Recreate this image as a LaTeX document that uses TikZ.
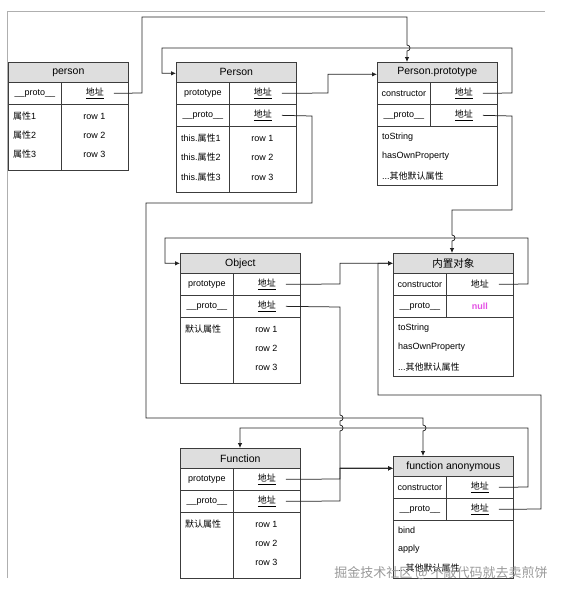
\documentclass[tikz,border=0pt]{standalone}
\usepackage{fontspec}
\setmainfont{Liberation Sans}
\newfontfamily\cjk{Noto Sans CJK SC}
\usetikzlibrary{positioning,calc}
\usetikzlibrary{arrows.meta}
\definecolor{BoxLine}{RGB}{60,60,60}
\definecolor{HeadGray}{RGB}{222,222,222}
\definecolor{LinkGray}{RGB}{35,35,35}
\definecolor{FrameGray}{RGB}{175,175,175}
\definecolor{NullPink}{RGB}{228,80,228}
\tikzset{
  head/.style={draw=BoxLine,fill=HeadGray,line width=0.7pt,anchor=north west,minimum width=120pt,
    minimum height=20pt,inner sep=0pt,font=\fontsize{10.5}{12}\selectfont},
  keycell/.style={draw=BoxLine,line width=0.7pt,anchor=north west,minimum width=53pt,minimum height=22pt,
    inner sep=0pt,font=\fontsize{9}{11}\selectfont},
  valcell/.style={draw=BoxLine,line width=0.7pt,anchor=north west,minimum width=67pt,minimum height=22pt,
    inner sep=0pt,font=\fontsize{9}{11}\selectfont},
  bodycell/.style={draw=BoxLine,line width=0.7pt,anchor=north west,inner sep=0pt},
}
\tikzset{entry/.style={anchor=west,inner sep=0pt,font=\fontsize{9}{11}\selectfont},
  rowv/.style={inner sep=0pt,font=\fontsize{9}{11}\selectfont},
  arr/.style={draw=LinkGray,line width=0.75pt,-{Latex[length=5pt,width=4.5pt]}},
  pageframe/.style={draw=FrameGray,line width=0.8pt},
  watermark/.style={text=black!40,font=\fontsize{13}{15}\selectfont}}
\newcommand{\addr}{\underline{\cjk 地址}}

\begin{document}
\begin{tikzpicture}[x=1pt,y=-1pt]
\useasboundingbox (0,0) rectangle (565,595);
\draw[pageframe] (7,578) -- (7,11) -- (545,11);

% person
\node[head] (pers) at (8,62) {person};
\node[keycell] (pers-k1) at (8,82) {\_\_proto\_\_};
\node[valcell] (pers-v1) at (61,82) {\addr};
\node[bodycell,minimum width=53pt,minimum height=66pt] (pers-b1) at (8,104) {};
\node[bodycell,minimum width=67pt,minimum height=66pt] (pers-b2) at (61,104) {};
\foreach \i/\y in {1/116,2/135,3/154}{
  \node[entry] (pers-t\i) at (13,\y) {{\cjk 属性}\i};
  \node[rowv] (pers-r\i) at (94.5,\y) {row \i};
}

% Person
\node[head] (ctor) at (176,62) {Person};
\node[keycell] (ctor-k1) at (176,82) {prototype};
\node[valcell] (ctor-v1) at (229,82) {\addr};
\node[keycell] (ctor-k2) at (176,104) {\_\_proto\_\_};
\node[valcell] (ctor-v2) at (229,104) {\addr};
\node[bodycell,minimum width=53pt,minimum height=66pt] (ctor-b1) at (176,126) {};
\node[bodycell,minimum width=67pt,minimum height=66pt] (ctor-b2) at (229,126) {};
\foreach \i/\y in {1/138,2/157,3/177}{
  \node[entry] (ctor-t\i) at (181,\y) {this.{\cjk 属性}\i};
  \node[rowv] (ctor-r\i) at (262.5,\y) {row \i};
}

% Person.prototype
\node[head] (ptype) at (377,62) {Person.prototype};
\node[keycell] (ptype-k1) at (377,82) {constructor};
\node[valcell] (ptype-v1) at (430,82) {\addr};
\node[keycell] (ptype-k2) at (377,104) {\_\_proto\_\_};
\node[valcell] (ptype-v2) at (430,104) {\addr};
\node[bodycell,minimum width=120pt,minimum height=59pt] (ptype-b) at (377,126) {};
\node[entry] (ptype-t1) at (382,137) {toString};
\node[entry] (ptype-t2) at (382,156) {hasOwnProperty};
\node[entry] (ptype-t3) at (382,176) {...{\cjk 其他默认属性}};

% Object
\node[head] (objf) at (180,253) {Object};
\node[keycell] (objf-k1) at (180,273) {prototype};
\node[valcell] (objf-v1) at (233,273) {\addr};
\node[keycell] (objf-k2) at (180,295) {\_\_proto\_\_};
\node[valcell] (objf-v2) at (233,295) {\addr};
\node[bodycell,minimum width=53pt,minimum height=66pt] (objf-b1) at (180,317) {};
\node[bodycell,minimum width=67pt,minimum height=66pt] (objf-b2) at (233,317) {};
\node[entry] (objf-t1) at (185,329) {\cjk 默认属性};
\foreach \i/\y in {1/329,2/348,3/367}
  \node[rowv] (objf-r\i) at (266.5,\y) {row \i};

% 内置对象
\node[head] (objp) at (393,253) {\cjk 内置对象};
\node[keycell] (objp-k1) at (393,273) {constructor};
\node[valcell] (objp-v1) at (446,273) {\cjk 地址};
\node[keycell] (objp-k2) at (393,295) {\_\_proto\_\_};
\node[valcell,text=NullPink,font=\fontsize{9}{11}\selectfont\bfseries] (objp-v2) at (446,295) {null};
\node[bodycell,minimum width=120pt,minimum height=59pt] (objp-b) at (393,317) {};
\node[entry] (objp-t1) at (398,328) {toString};
\node[entry] (objp-t2) at (398,347) {hasOwnProperty};
\node[entry] (objp-t3) at (398,367) {...{\cjk 其他默认属性}};

% Function
\node[head] (func) at (180,448) {Function};
\node[keycell] (func-k1) at (180,468) {prototype};
\node[valcell] (func-v1) at (233,468) {\addr};
\node[keycell] (func-k2) at (180,490) {\_\_proto\_\_};
\node[valcell] (func-v2) at (233,490) {\addr};
\node[bodycell,minimum width=53pt,minimum height=66pt] (func-b1) at (180,512) {};
\node[bodycell,minimum width=67pt,minimum height=66pt] (func-b2) at (233,512) {};
\node[entry] (func-t1) at (185,524) {\cjk 默认属性};
\foreach \i/\y in {1/524,2/543,3/562}
  \node[rowv] (func-r\i) at (266.5,\y) {row \i};

% function anonymous
\node[head] (fanon) at (393,456) {function anonymous};
\node[keycell] (fanon-k1) at (393,476) {constructor};
\node[valcell] (fanon-v1) at (446,476) {\addr};
\node[keycell] (fanon-k2) at (393,498) {\_\_proto\_\_};
\node[valcell] (fanon-v2) at (446,498) {\addr};
\node[bodycell,minimum width=120pt,minimum height=58pt] (fanon-b) at (393,520) {};
\node[entry] (fanon-t1) at (398,530) {bind};
\node[entry] (fanon-t2) at (398,549) {apply};
\node[entry] (fanon-t3) at (398,568) {...{\cjk 其他默认属性}};

% links
\draw[arr] ([xshift=19pt]pers-v1.center) -- (142,93) -- (142,17) -- (407,17) -- (407,45)
  .. controls +(4,0) and +(4,0) .. (407,51) -- ([xshift=30pt]ptype.north west);
\draw[arr] ([xshift=19pt]ctor-v1.center) -- (328,93) |- ([yshift=-2pt]ptype.west);
\draw[arr] ([xshift=19pt]ptype-v1.center) -- (512,93) |- (162,48) |- ([yshift=-1pt]ctor.west);
\draw[arr] ([xshift=19pt]ptype-v2.center) -- (512,116) |- (452,210) -- (452,235)
  .. controls +(4,0) and +(4,0) .. (452,241) -- ([xshift=59pt]objp.north west);
\draw[arr] ([xshift=19pt]ctor-v2.center) -- (312,116) |- (146,203) |- (423,418) -- (423,425)
  .. controls +(4,0) and +(4,0) .. (423,431) -- ([xshift=30pt]fanon.north west);
\draw[arr] ([xshift=19pt]objf-v1.center) -- (340,284) |- (objp.west);
\draw[arr] ([xshift=19pt]objf-v2.center) -- (340,307) -- (340,415)
  .. controls +(4,0) and +(4,0) .. (340,421) -- (340,425)
  .. controls +(4,0) and +(4,0) .. (340,431) |- ([yshift=-2pt]fanon.west);
\draw[arr] ([xshift=19pt]func-v1.center) -- (340,479) |- ([yshift=-2pt]fanon.west);
\draw[arr] ([xshift=19pt]func-v2.center) -- (340,501) |- ([yshift=-2pt]fanon.west);
\draw[arr] ([xshift=19pt]objp-v1.center) -- (528,284) |- (165,238) |- (objf.west);
\draw[arr] ([xshift=19pt]fanon-v1.center) -- (528,487) |- (240,428) -- ([xshift=60pt]func.north west);
\draw[arr] ([xshift=19pt]fanon-v2.center) -- (541,509) |- (378,395) |- (objp.west);

\node[watermark] (wm) at (441,573) {\cjk 掘金技术社区 @ 不敲代码就去卖煎饼};
\end{tikzpicture}
\end{document}
